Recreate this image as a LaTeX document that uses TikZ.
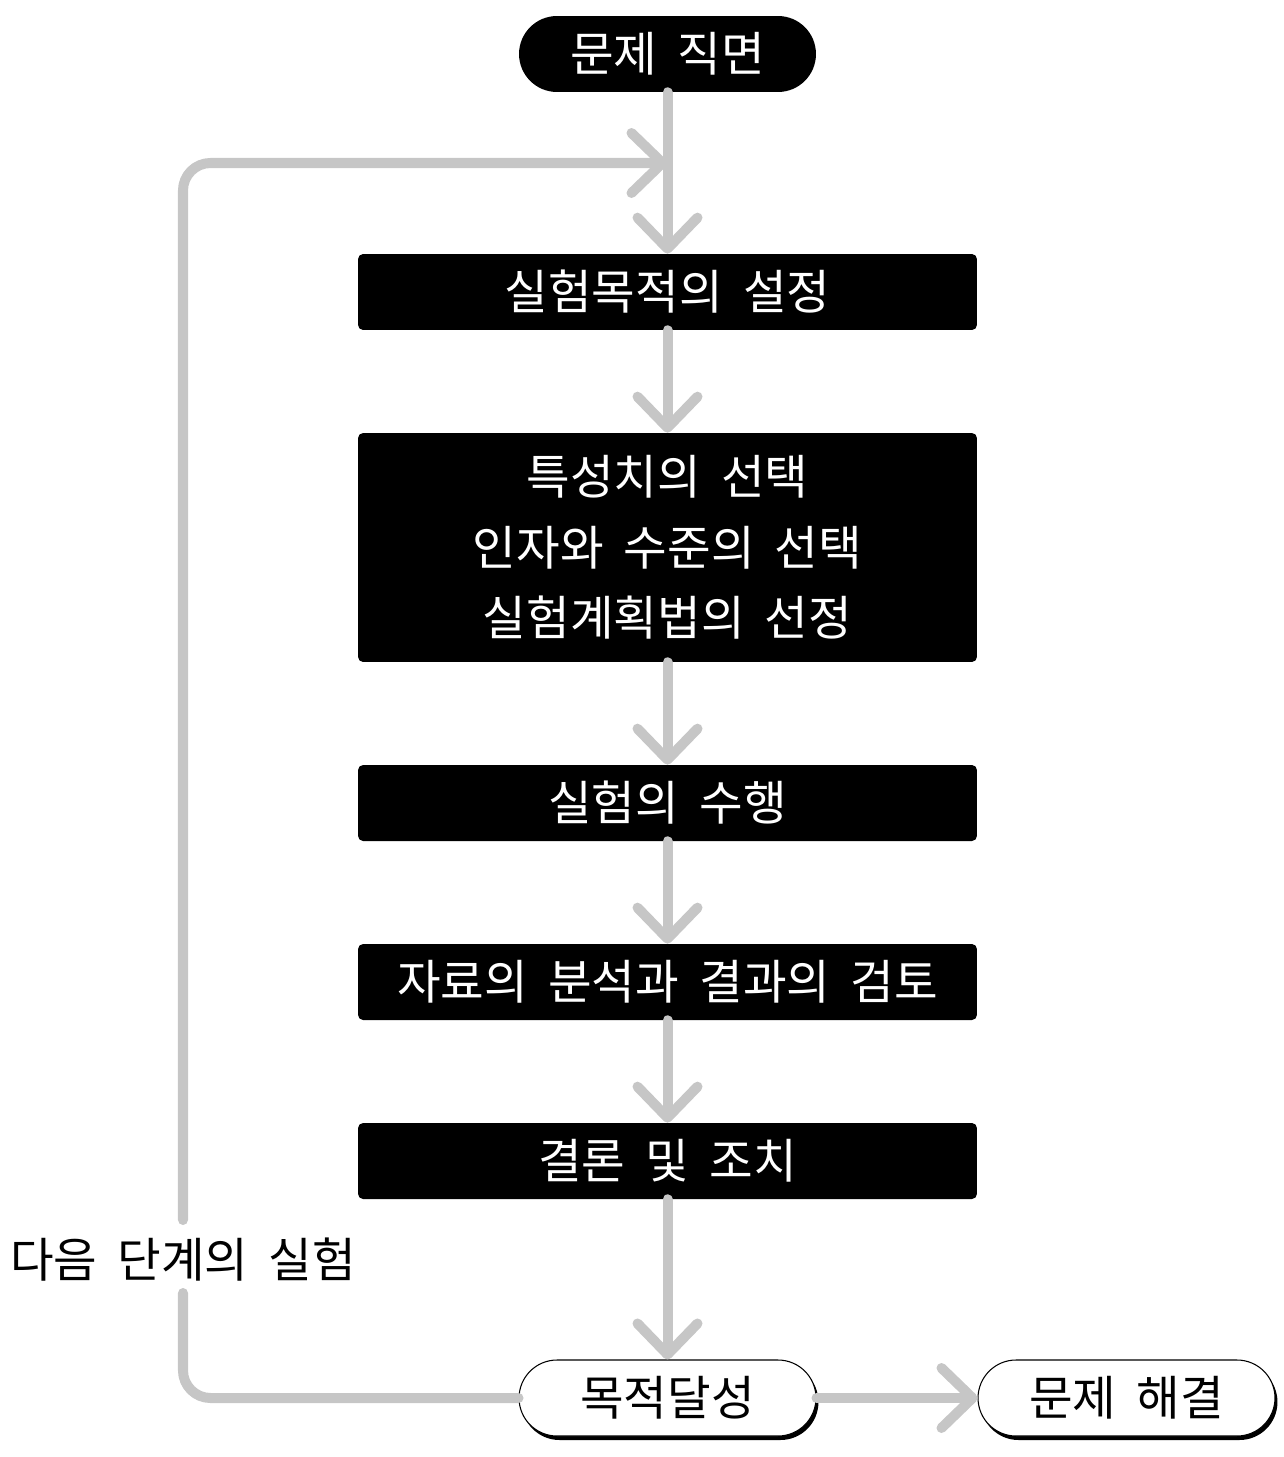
\documentclass[tikz,border=0pt]{standalone}
\usepackage{fontspec}
\setmainfont{Noto Sans CJK KR}[WordSpace=1.9]
\usetikzlibrary{arrows.meta,shadows}
\definecolor{flowgray}{HTML}{C6C6C6}
\begin{document}
\begin{tikzpicture}[x=0.02cm,y=-0.02cm,
  lbl/.style={font=\fontsize{27}{40}\selectfont},
  blackbox/.style={lbl, fill=black, text=white, rounded corners=0.1cm, minimum width=12.38cm, minimum height=1.52cm, inner sep=0pt, align=center},
  blackpill/.style={lbl, fill=black, text=white, rounded corners=0.76cm, minimum width=5.94cm, minimum height=1.52cm, inner sep=0pt},
  whitepill/.style={lbl, fill=white, draw=black, line width=0.6pt, rounded corners=0.76cm, minimum width=5.94cm, minimum height=1.52cm, inner sep=0pt,
     drop shadow={shadow xshift=0.05cm, shadow yshift=-0.08cm, fill=black, opacity=1}},
  flowline/.style={draw=flowgray, line width=5.7pt, line cap=round, line join=round},
  flow/.style={flowline, -{Straight Barb[length=0.62cm, width=1.2cm, round]}}
]
\useasboundingbox (0,0) rectangle (1284,1457);

\node[blackpill] (start) at (667.5,54) {문제 직면};
\node[blackbox] (b1) at (667.5,292) {실험목적의 설정};
\node[blackbox, minimum height=4.58cm] (b2) at (667.5,547.5) {특성치의 선택\\인자와 수준의 선택\\실험계획법의 선정};
\node[blackbox] (b3) at (667.5,803) {실험의 수행};
\node[blackbox] (b4) at (667.5,982) {자료의 분석과 결과의 검토};
\node[blackbox] (b5) at (667.5,1161) {결론 및 조치};
\node[whitepill] (goal) at (667.5,1398) {목적달성};
\node[whitepill] (solved) at (1126.5,1398) {문제 해결};
\node[lbl, inner sep=0pt] (next) at (183,1260) {다음 단계의 실험};

\coordinate (fb) at (667.5,163);
\coordinate (lblTop) at (183,1220);
\coordinate (lblBot) at (183,1293);

\draw[flowline, rounded corners=0.55cm] (goal.west) -| (lblBot);
\draw[flow, rounded corners=0.55cm] (lblTop) |- (fb);

\draw[flow] (start) -- (b1);
\draw[flow] (b1) -- (b2);
\draw[flow] (b2) -- (b3);
\draw[flow] (b3) -- (b4);
\draw[flow] (b4) -- (b5);
\draw[flow] (b5) -- (goal);
\draw[flow] (goal) -- (solved);
\end{tikzpicture}
\end{document}
